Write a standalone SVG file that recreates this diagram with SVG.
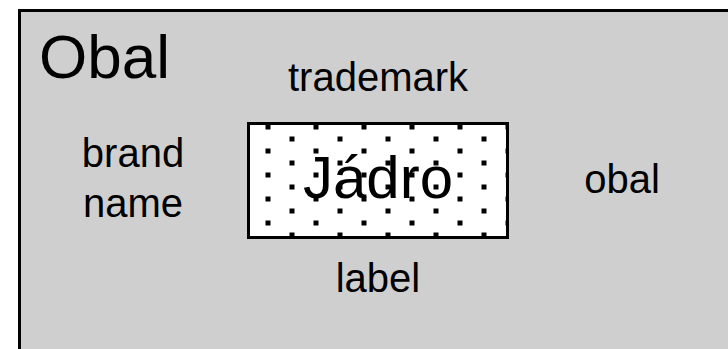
<svg xmlns="http://www.w3.org/2000/svg" width="728" height="349" viewBox="0 0 728 349">
  <defs>
    <!-- dotted fill for the core box: square dots on a staggered 48x24 grid -->
    <pattern id="dots" patternUnits="userSpaceOnUse" x="265.5" y="124.5" width="48" height="24">
      <rect x="0" y="0" width="5" height="5" fill="#000"/>
      <rect x="24" y="12" width="5" height="5" fill="#000"/>
    </pattern>
  </defs>
  <style>
    text { font-family: "Liberation Sans", Arial, sans-serif; fill: #000; }
    .big { font-size: 60px; }
    .small { font-size: 40px; }
    .mid { text-anchor: middle; }
  </style>
  <rect width="728" height="349" fill="#ffffff"/>

  <!-- outer wrapper -->
  <g id="obal">
    <rect x="19.5" y="10.5" width="720" height="350" fill="#cfcfcf" stroke="#000" stroke-width="3"/>
    <text class="big" x="39" y="78" style="font-size:62px">Obal</text>
  </g>

  <!-- surrounding labels -->
  <g id="trademark"><text class="small mid" x="378" y="91">trademark</text></g>
  <g id="brand-name">
    <text class="small mid" x="133" y="167">brand</text>
    <text class="small mid" x="133" y="217">name</text>
  </g>
  <g id="obal-label"><text class="small mid" x="622" y="193">obal</text></g>
  <g id="label"><text class="small mid" x="378" y="292">label</text></g>

  <!-- core box -->
  <g id="jadro">
    <rect x="248.5" y="123.5" width="259" height="114" fill="#ffffff"/>
    <text class="big mid" x="378" y="198">Jádro</text>
    <rect x="248.5" y="123.5" width="259" height="114" fill="url(#dots)" stroke="#000" stroke-width="3"/>
  </g>

  <g id="connectors"/>
</svg>
